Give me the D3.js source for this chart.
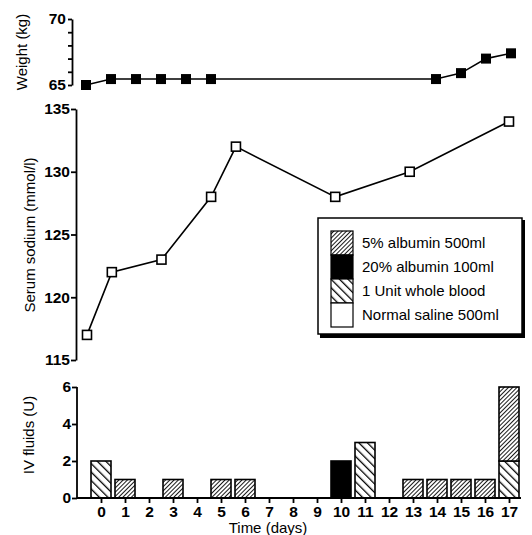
<!DOCTYPE html>
<html>
<head>
<meta charset="utf-8">
<script src="https://cdn.jsdelivr.net/npm/d3@7"></script>
<style>
  body { margin: 0; background: #fff; }
  svg { display: block; font-family: "Liberation Sans", Arial, Helvetica, sans-serif; }
  .domain, .tick line { stroke: #000; stroke-width: 1.8; }
</style>
</head>
<body>
<div id="wrapper"></div>
<script>
// data
const dayTicks = [0, 1, 2, 3, 4, 5, 6, 7, 8, 9, 10, 11, 12, 13, 14, 15, 16, 17]

const weightDays = [0, 1, 2, 3, 4, 5, 14, 15, 16, 17]
const weightKg = [65.0, 65.45, 65.45, 65.45, 65.45, 65.45, 65.45, 65.9, 67.0, 67.4]

const sodiumDays = [0, 1, 3, 5, 6, 10, 13, 17]
const sodiumVals = [117, 122, 123, 128, 132, 128, 130, 134]

// units given per day (0..17)
const blood     = [2, 0, 0, 0, 0, 0, 0, 0, 0, 0, 0, 3, 0, 0, 0, 0, 0, 2]
const albumin20 = [0, 0, 0, 0, 0, 0, 0, 0, 0, 0, 2, 0, 0, 0, 0, 0, 0, 0]
const albumin5  = [0, 1, 0, 1, 0, 1, 1, 0, 0, 0, 0, 0, 0, 1, 1, 1, 1, 4]
const saline    = [0, 0, 0, 0, 0, 0, 0, 0, 0, 0, 0, 0, 0, 0, 0, 0, 0, 0]

const legendLabels = ["5% albumin 500ml", "20% albumin 100ml", "1 Unit whole blood", "Normal saline 500ml"]
const legendKeys = ["albumin5", "albumin20", "blood", "saline"]

const W = 532, H = 535

const svg = d3.select("#wrapper").append("svg")
  .attr("width", W)
  .attr("height", H)

// patterns
const defs = svg.append("defs")
const pA5 = defs.append("pattern")
  .attr("id", "pat-albumin5")
  .attr("patternUnits", "userSpaceOnUse")
  .attr("width", 3).attr("height", 3)
  .attr("patternTransform", "rotate(45)")
pA5.append("rect").attr("width", 3).attr("height", 3).attr("fill", "#fff")
pA5.append("line").attr("x1", 0).attr("y1", 0).attr("x2", 0).attr("y2", 3)
  .attr("stroke", "#000").attr("stroke-width", 1.8)

const pBl = defs.append("pattern")
  .attr("id", "pat-blood")
  .attr("patternUnits", "userSpaceOnUse")
  .attr("width", 6).attr("height", 6)
  .attr("patternTransform", "rotate(-45)")
pBl.append("rect").attr("width", 6).attr("height", 6).attr("fill", "#fff")
pBl.append("line").attr("x1", 0).attr("y1", 0).attr("x2", 0).attr("y2", 6)
  .attr("stroke", "#000").attr("stroke-width", 2.6)

const fills = {
  albumin5: "url(#pat-albumin5)",
  albumin20: "#000",
  blood: "url(#pat-blood)",
  saline: "#fff",
}

const styleTicks = g => g.selectAll(".tick text")
  .attr("fill", "#000")
  .style("font-size", "15.5px")
  .style("font-weight", "bold")
  .style("font-family", "'Liberation Sans', Arial, sans-serif")

// ---------- weight panel ----------
const xW = d3.scaleLinear().domain([0, 17]).range([86, 511])
const yW = d3.scaleLinear().domain([65, 70]).range([85, 19])

svg.append("g")
  .attr("transform", "translate(72,0)")
  .call(d3.axisLeft(yW).tickValues([65, 66, 67, 68, 69, 70]).tickSize(4).tickSizeOuter(0)
    .tickFormat(d => (d === 65 || d === 70) ? d : ""))
  .call(styleTicks)
  .call(g => g.selectAll(".tick text").attr("dx", 1))

const weightPts = weightDays.map((d, i) => ({ day: d, v: weightKg[i] }))

svg.append("path")
  .datum(weightPts)
  .attr("fill", "none")
  .attr("stroke", "#000")
  .attr("stroke-width", 1.6)
  .attr("d", d3.line().x(d => xW(d.day)).y(d => yW(d.v)))

svg.selectAll(".wdot")
  .data(weightPts)
  .join("rect")
  .attr("class", "wdot")
  .attr("x", d => xW(d.day) - 5)
  .attr("y", d => yW(d.v) - 5)
  .attr("width", 10)
  .attr("height", 10)
  .attr("fill", "#000")

svg.append("text")
  .attr("transform", "translate(27,52) rotate(-90)")
  .attr("text-anchor", "middle")
  .style("font-size", "15px")
  .text("Weight (kg)")

// ---------- sodium panel ----------
const xS = d3.scaleLinear().domain([0, 17]).range([87, 509])
const yS = d3.scaleLinear().domain([115, 135]).range([360, 109])

svg.append("g")
  .attr("transform", "translate(76,0)")
  .call(d3.axisLeft(yS).tickValues([115, 120, 125, 130, 135]).tickSize(5).tickSizeOuter(0))
  .call(styleTicks)
  .call(g => g.selectAll(".tick text").attr("dx", 2))

const sodiumPts = sodiumDays.map((d, i) => ({ day: d, v: sodiumVals[i] }))

svg.append("path")
  .datum(sodiumPts)
  .attr("fill", "none")
  .attr("stroke", "#000")
  .attr("stroke-width", 1.6)
  .attr("d", d3.line().x(d => xS(d.day)).y(d => yS(d.v)))

svg.selectAll(".sdot")
  .data(sodiumPts)
  .join("rect")
  .attr("class", "sdot")
  .attr("x", d => xS(d.day) - 4.5)
  .attr("y", d => yS(d.v) - 4.5)
  .attr("width", 9)
  .attr("height", 9)
  .attr("fill", "#fff")
  .attr("stroke", "#000")
  .attr("stroke-width", 1.6)

svg.append("text")
  .attr("transform", "translate(35,235) rotate(-90)")
  .attr("text-anchor", "middle")
  .style("font-size", "15px")
  .text("Serum sodium (mmol/l)")

// legend
const legend = svg.append("g")
legend.append("rect")
  .attr("x", 320).attr("y", 220).attr("width", 205).attr("height", 118)
  .attr("fill", "#000")
legend.append("rect")
  .attr("x", 318).attr("y", 218).attr("width", 204).attr("height", 116)
  .attr("fill", "#fff").attr("stroke", "#000").attr("stroke-width", 1.5)

const rowH = 24
legend.selectAll(".sw")
  .data(legendKeys)
  .join("rect")
  .attr("class", "sw")
  .attr("x", 331)
  .attr("y", (d, i) => 231 + i * rowH)
  .attr("width", 22)
  .attr("height", rowH)
  .attr("fill", d => fills[d])
  .attr("stroke", "#000")
  .attr("stroke-width", 1.2)

legend.selectAll(".lt")
  .data(legendLabels)
  .join("text")
  .attr("class", "lt")
  .attr("x", 362)
  .attr("y", (d, i) => 231 + i * rowH + rowH / 2)
  .attr("dy", "0.35em")
  .style("font-size", "15px")
  .text(d => d)

// ---------- IV fluids panel ----------
const xB = d3.scaleLinear().domain([0, 17]).range([101, 509])
const yB = d3.scaleLinear().domain([0, 6]).range([498, 387])
const barW = 20

const table = dayTicks.map((d, i) => ({
  day: d, blood: blood[i], albumin20: albumin20[i], albumin5: albumin5[i], saline: saline[i],
}))
const series = d3.stack().keys(["blood", "albumin20", "albumin5", "saline"])(table)

svg.selectAll(".layer")
  .data(series)
  .join("g")
  .attr("class", "layer")
  .attr("fill", s => fills[s.key])
  .selectAll("rect")
  .data(s => s.filter(p => p[1] - p[0] > 0))
  .join("rect")
  .attr("x", p => xB(p.data.day) - barW / 2)
  .attr("y", p => yB(p[1]))
  .attr("width", barW)
  .attr("height", p => yB(p[0]) - yB(p[1]))
  .attr("stroke", "#000")
  .attr("stroke-width", 1.6)

svg.append("g")
  .attr("transform", "translate(77,0)")
  .call(d3.axisLeft(yB).tickValues([0, 2, 4, 6]).tickSize(5).tickSizeOuter(0).tickFormat(d3.format("d")))
  .call(g => g.select(".domain").attr("d", `M0,${yB(6)}V${yB(0)}`))
  .call(styleTicks)
  .call(g => g.selectAll(".tick text").attr("dx", 2))

const xAxis = svg.append("g")
  .attr("transform", `translate(0,${yB(0)})`)
  .call(d3.axisBottom(xB).tickValues(dayTicks).tickSize(5).tickSizeOuter(0).tickFormat(d3.format("d")))
  .call(styleTicks)
xAxis.select(".domain").attr("d", `M77,0H521`)
xAxis.selectAll(".tick text").attr("y", 6).attr("dy", "0.85em")

svg.append("text")
  .attr("transform", "translate(34,435) rotate(-90)")
  .attr("text-anchor", "middle")
  .style("font-size", "15px")
  .text("IV fluids (U)")

svg.append("text")
  .attr("x", 268)
  .attr("y", 533)
  .attr("text-anchor", "middle")
  .style("font-size", "15px")
  .text("Time (days)")
</script>
</body>
</html>
